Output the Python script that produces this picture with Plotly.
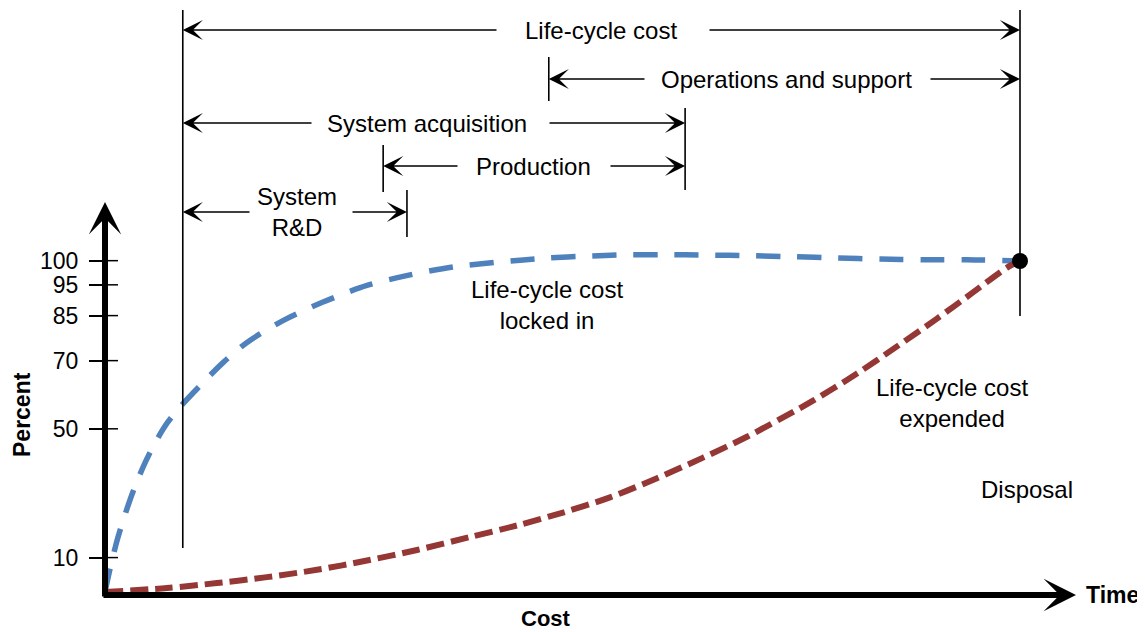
import plotly.graph_objects as go

# ---------------- data ----------------
# time axis: 0 = program start, 100 = end of life cycle
locked_t = [0, 0.55, 1.31, 1.97, 2.73, 3.5, 4.37, 5.46, 6.78, 8.2, 11.15, 12.9, 15.52,
            19.45, 23.83, 28.63, 33.33, 38.03, 43.17, 48.31, 53.01, 56.28, 60.98, 65.79,
            70.49, 75.19, 80.0, 84.7, 89.4, 94.21, 100]
locked_pct = [0, 7.0, 15.5, 21.5, 27.8, 33.4, 39.0, 45.0, 51.0, 55.9, 64.5, 69.3, 75.4,
              82.0, 87.6, 92.6, 95.8, 98.2, 99.7, 100.9, 101.5, 101.8, 101.9, 101.8,
              101.6, 101.3, 100.9, 100.6, 100.4, 100.4, 100.0]

expended_t = [0, 6.78, 12.24, 17.7, 23.17, 28.63, 34.1, 39.89, 45.03, 50.05, 55.19, 60.33,
              65.36, 70.16, 77.38, 82.19, 86.56, 90.93, 94.86, 98.58, 100]
expended_pct = [0, 1.2, 2.7, 4.5, 6.7, 9.5, 12.7, 16.6, 20.1, 24.0, 28.6, 34.4,
                40.6, 46.9, 57.8, 66.0, 74.2, 82.6, 90.5, 98.0, 100.0]

tick_labels = ["10", "50", "70", "85", "95", "100"]
tick_positions = [10.4, 49.3, 69.9, 83.5, 92.8, 100.1]

phase_names = ["Life-cycle cost", "Operations and support", "System acquisition",
               "Production", "System<br>R&amp;D"]
phase_start = [8.5, 48.5, 8.5, 30.4, 8.5]
phase_end = [100, 100, 63.4, 63.4, 33.0]

# ---------------- geometry helpers (layout only) ----------------
REF_W, REF_H = 1145, 632
OFF = 8                         # page body margin
W, H = REF_W - OFF, REF_H - OFF
PLOT_LEFT, PLOT_BOTTOM = 105, 595   # reference pixels of the axes corner
ML = PLOT_LEFT - OFF
MB = REF_H - PLOT_BOTTOM
PX_X0, PX_PER_X = 105.0, 9.15     # pixel of t=0, pixels per time unit
PX_Y0, PX_PER_Y = 592.0, 3.31     # pixel of 0 %, pixels per percent


def tx(px):
    return (px - PX_X0) / PX_PER_X


def ty(py):
    return (PX_Y0 - py) / PX_PER_Y


def paper_x(px):
    return (px - PLOT_LEFT) / (REF_W - PLOT_LEFT)


def paper_y(py):
    return (PLOT_BOTTOM - py) / (PLOT_BOTTOM - OFF)


x_range = [tx(PLOT_LEFT), tx(REF_W)]
y_range = [ty(PLOT_BOTTOM), ty(OFF)]

FONT = "Liberation Sans, Arial, Helvetica, sans-serif"
FS = 24
BLACK = "#000000"

fig = go.Figure()

fig.add_trace(go.Scatter(
    x=locked_t, y=locked_pct, mode="lines", name="Life-cycle cost locked in",
    line=dict(color="#4F81BD", width=5.5, dash="24px,17px", shape="spline", smoothing=0.8),
    showlegend=False, hoverinfo="skip"))

fig.add_trace(go.Scatter(
    x=expended_t, y=expended_pct, mode="lines", name="Life-cycle cost expended",
    line=dict(color="#953735", width=6, dash="18px,7px", shape="spline", smoothing=0.8),
    showlegend=False, hoverinfo="skip"))

fig.add_trace(go.Scatter(
    x=[locked_t[-1]], y=[locked_pct[-1]], mode="markers",
    marker=dict(color=BLACK, size=16), showlegend=False, hoverinfo="skip"))

shapes = []
annotations = []

# vertical phase boundary lines (time positions from the phase lists)
vlines = [
    (phase_start[0], 10, 548),
    (phase_end[0], 10, 316),
    (phase_start[1], 57, 101),
    (phase_end[2], 108, 190),
    (phase_start[3], 145, 192),
    (phase_end[4], 190, 237),
]
for xv, p0, p1 in vlines:
    shapes.append(dict(type="line", xref="x", yref="y", x0=xv, x1=xv, y0=ty(p0), y1=ty(p1),
                       line=dict(color=BLACK, width=1.6), layer="above"))

# dimension rows: pixel row, text centre pixel, gap (left, right) pixels
rows_py = [30, 79, 123, 166, 212]
text_px = [601, 786, 427, 533, 297]
gaps_px = [(498, 708), (646, 929), (313, 548), (459, 609), (251, 351)]

for i, name in enumerate(phase_names):
    yrow = ty(rows_py[i])
    annotations.append(dict(x=tx(text_px[i]), y=yrow, xref="x", yref="y", text=name,
                            showarrow=False, font=dict(family=FONT, size=FS, color=BLACK),
                            xanchor="center", yanchor="middle"))
    gl, gr = gaps_px[i]
    for tip, tail in ((phase_start[i], tx(gl)), (phase_end[i], tx(gr))):
        annotations.append(dict(x=tip, y=yrow, ax=tail, ay=yrow, xref="x", yref="y",
                                axref="x", ayref="y", text="", showarrow=True,
                                arrowhead=3, arrowwidth=1.6, arrowsize=2.1,
                                arrowcolor=BLACK, standoff=0, startstandoff=0))

# curve labels
annotations += [
    dict(x=tx(547), y=ty(305), xref="x", yref="y", text="Life-cycle cost<br>locked in",
         showarrow=False, xanchor="center", yanchor="middle",
         font=dict(family=FONT, size=FS, color=BLACK)),
    dict(x=tx(952), y=ty(403), xref="x", yref="y", text="Life-cycle cost<br>expended",
         showarrow=False, xanchor="center", yanchor="middle",
         font=dict(family=FONT, size=FS, color=BLACK)),
    dict(x=tx(1027), y=ty(489), xref="x", yref="y", text="Disposal",
         showarrow=False, xanchor="center", yanchor="middle",
         font=dict(family=FONT, size=FS, color=BLACK)),
]

# axis lines with arrow heads
annotations.append(dict(x=paper_x(105), y=paper_y(202), xref="paper", yref="paper",
                        ax=0, ay=598 - 202, text="", showarrow=True, arrowhead=3,
                        arrowwidth=6, arrowsize=0.9, arrowcolor=BLACK, standoff=0))
annotations.append(dict(x=paper_x(1076), y=paper_y(595), xref="paper", yref="paper",
                        ax=-(1076 - 102), ay=0, text="", showarrow=True, arrowhead=3,
                        arrowwidth=6, arrowsize=0.9, arrowcolor=BLACK, standoff=0))

# axis titles
annotations += [
    dict(x=paper_x(1112), y=paper_y(595), xref="paper", yref="paper", text="<b>Time</b>",
         showarrow=False, xanchor="center", yanchor="middle",
         font=dict(family=FONT, size=FS - 1, color=BLACK)),
    dict(x=paper_x(546), y=paper_y(618), xref="paper", yref="paper", text="<b>Cost</b>",
         showarrow=False, xanchor="center", yanchor="middle",
         font=dict(family=FONT, size=FS - 2, color=BLACK)),
    dict(x=paper_x(22), y=paper_y(415), xref="paper", yref="paper", text="<b>Percent</b>",
         showarrow=False, textangle=-90, xanchor="center", yanchor="middle",
         font=dict(family=FONT, size=FS - 1, color=BLACK)),
]

# inner half of the y tick marks
for tp in tick_positions:
    shapes.append(dict(type="line", xref="paper", yref="y", x0=0, x1=paper_x(118),
                       y0=tp, y1=tp, line=dict(color=BLACK, width=1.5)))

fig.update_layout(
    width=W, height=H, autosize=False,
    margin=dict(l=ML, r=0, t=0, b=MB, pad=0),
    paper_bgcolor="white", plot_bgcolor="white",
    showlegend=False,
    xaxis=dict(range=x_range, visible=False, fixedrange=True),
    yaxis=dict(range=y_range, tickvals=tick_positions, ticktext=tick_labels,
               ticks="outside", ticklen=15, tickwidth=1.5, tickcolor=BLACK,
               ticklabelstandoff=6,
               tickfont=dict(family=FONT, size=23, color=BLACK),
               showgrid=False, zeroline=False, showline=False, fixedrange=True),
    shapes=shapes,
    annotations=annotations,
)

fig.write_html("out.html")
